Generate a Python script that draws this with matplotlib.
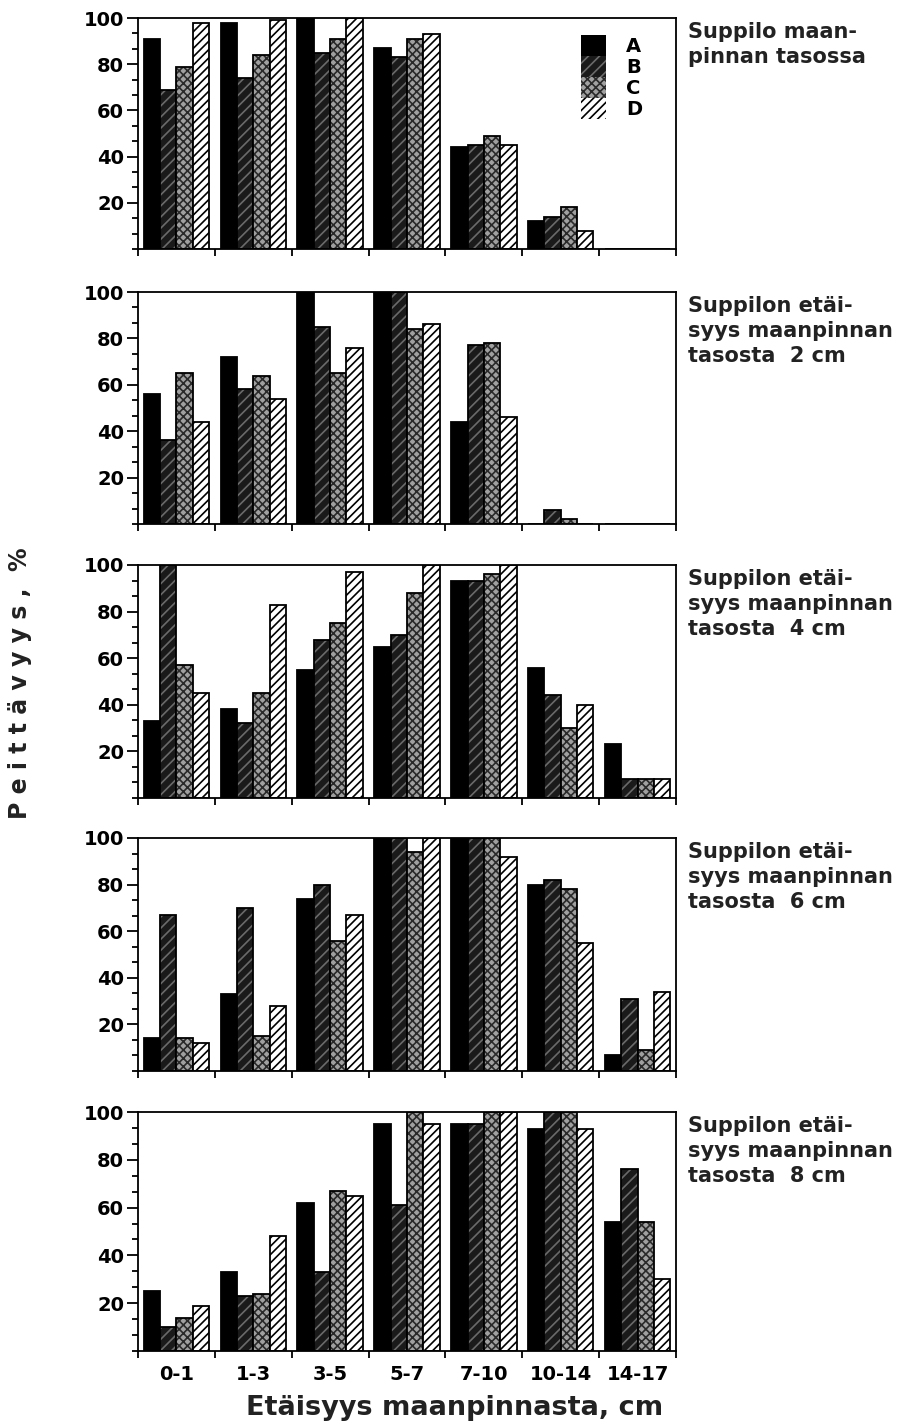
import matplotlib
matplotlib.use('Agg')
import matplotlib.pyplot as plt
import numpy as np
from matplotlib.patches import Patch
from matplotlib.ticker import MultipleLocator

plt.rcParams['font.family'] = ['DejaVu Sans']
plt.rcParams['font.weight'] = 'bold'
plt.rcParams['hatch.linewidth'] = 1.2

# Data
distances = ["0-1", "1-3", "3-5", "5-7", "7-10", "10-14", "14-17"]
series = ["A", "B", "C", "D"]

panel_titles = [
    "Suppilo maan-\npinnan tasossa",
    "Suppilon etäi-\nsyys maanpinnan\ntasosta  2 cm",
    "Suppilon etäi-\nsyys maanpinnan\ntasosta  4 cm",
    "Suppilon etäi-\nsyys maanpinnan\ntasosta  6 cm",
    "Suppilon etäi-\nsyys maanpinnan\ntasosta  8 cm",
]

# values per panel: rows A, B, C, D ; columns = distances
p0 = [[91, 98, 100, 87, 44, 12, 0],
      [69, 74, 85, 83, 45, 14, 0],
      [79, 84, 91, 91, 49, 18, 0],
      [98, 99, 100, 93, 45, 8, 0]]
p2 = [[56, 72, 100, 100, 44, 0, 0],
      [36, 58, 85, 100, 77, 6, 0],
      [65, 64, 65, 84, 78, 2, 0],
      [44, 54, 76, 86, 46, 0, 0]]
p4 = [[33, 38, 55, 65, 93, 56, 23],
      [100, 32, 68, 70, 93, 44, 8],
      [57, 45, 75, 88, 96, 30, 8],
      [45, 83, 97, 100, 100, 40, 8]]
p6 = [[14, 33, 74, 100, 100, 80, 7],
      [67, 70, 80, 100, 100, 82, 31],
      [14, 15, 56, 94, 100, 78, 9],
      [12, 28, 67, 100, 92, 55, 34]]
p8 = [[25, 33, 62, 95, 95, 93, 54],
      [10, 23, 33, 61, 95, 100, 76],
      [14, 24, 67, 100, 100, 100, 54],
      [19, 48, 65, 95, 100, 93, 30]]
panels = [p0, p2, p4, p6, p8]

# styles: facecolor, hatch, hatch color
styles = [
    ('black', None, 'black'),
    ('#1a1a1a', '///', '#6a6a6a'),
    ('#a0a0a0', 'xxxx', '#2a2a2a'),
    ('white', '////', 'black'),
]

W, H = 913, 1426
fig = plt.figure(figsize=(W / 100, H / 100), dpi=100)

left, right = 138, 676
boxes = [(18, 249), (292, 524), (565, 798), (838, 1071), (1112, 1351)]

x = np.arange(len(distances))
bw = 0.2125

for k, (top, bot) in enumerate(boxes):
    ax = fig.add_axes([left / W, 1 - bot / H, (right - left) / W, (bot - top) / H])
    vals = panels[k]
    for j in range(4):
        fc, hatch, hc = styles[j]
        pos = x - 1.5 * bw + j * bw
        ax.bar(pos, vals[j], width=bw, color=fc, edgecolor=hc, hatch=hatch, linewidth=0)
        ax.bar(pos, vals[j], width=bw, fill=False, edgecolor='black', linewidth=1.3)
    ax.set_xlim(-0.5, len(distances) - 0.5)
    ax.set_ylim(0, 100)
    ax.set_yticks([20, 40, 60, 80, 100])
    ax.yaxis.set_minor_locator(MultipleLocator(20 / 3))
    ax.tick_params(axis='y', which='major', direction='out', length=8, width=1.3,
                   labelsize=14, pad=2)
    ax.tick_params(axis='y', which='minor', direction='out', length=4, width=1.3)
    ax.set_xticks(np.arange(-0.5, len(distances), 1.0))
    ax.set_xticklabels([])
    ax.set_xticks(x, minor=True)
    ax.tick_params(axis='x', which='major', direction='out', length=5, width=1.3)
    ax.tick_params(axis='x', which='minor', length=0, labelsize=14, pad=10)
    if k == len(boxes) - 1:
        ax.set_xticklabels(distances, minor=True)
    for s in ax.spines.values():
        s.set_linewidth(1.3)
    fig.text(688 / W, 1 - (top + 4) / H, panel_titles[k], ha='left', va='top',
             fontsize=15, fontweight='bold', linespacing=1.3, color='#222222')
    if k == 0:
        handles = []
        for j in range(4):
            fc, hatch, hc = styles[j]
            handles.append(Patch(facecolor=fc, edgecolor=hc, hatch=hatch, linewidth=0))
        ax.legend(handles, series, loc='upper right', bbox_to_anchor=(0.955, 0.97),
                  frameon=False, handlelength=1.3, handleheight=1.3, labelspacing=0,
                  handletextpad=1.0, fontsize=14, borderpad=0)

fig.text(455 / W, 1 - 1408 / H, "Etäisyys maanpinnasta, cm", ha='center', va='center',
         fontsize=19.5, fontweight='bold', color='#222222')
fig.text(20 / W, 1 - 683 / H, "P e i t t ä v y y s ,  %", ha='center', va='center',
         rotation=90, fontsize=17, fontweight='bold', color='#222222')

fig.savefig('out.png', dpi=100)
